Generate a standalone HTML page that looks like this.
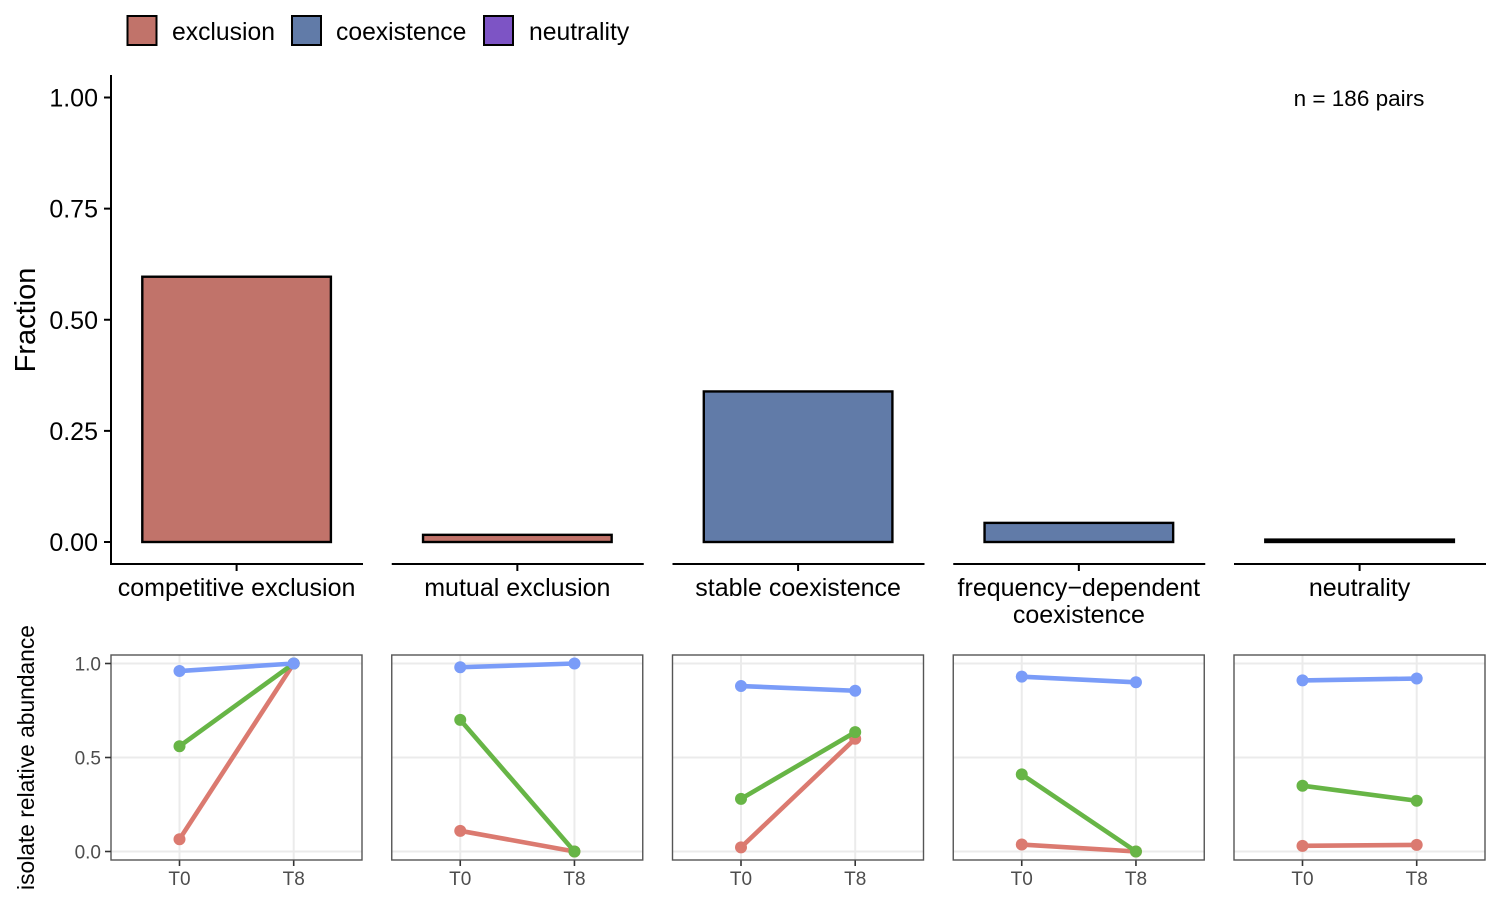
<!DOCTYPE html>
<html>
<head>
<meta charset="utf-8">
<style>
html,body{margin:0;padding:0;background:#fff;width:1500px;height:900px;overflow:hidden}
svg{display:block}
text{font-family:"Liberation Sans",sans-serif}
</style>
</head>
<body>
<svg id="fig" xmlns="http://www.w3.org/2000/svg" width="1500" height="900" viewBox="0 0 1500 900">
  <rect width="1500" height="900" fill="#fff"/>
  <g>
    <g>
      <rect x="127.5" y="16" width="29" height="29" fill="#C1736A" stroke="#000" stroke-width="2"/>
      <text x="172" y="40" font-size="24.7">exclusion</text>
    </g>
    <g>
      <rect x="292" y="16" width="29" height="29" fill="#617BA8" stroke="#000" stroke-width="2"/>
      <text x="336" y="40" font-size="24.7">coexistence</text>
    </g>
    <g>
      <rect x="484" y="16" width="29" height="29" fill="#7D54C5" stroke="#000" stroke-width="2"/>
      <text x="529" y="40" font-size="24.7">neutrality</text>
    </g>
  </g>
  <text transform="translate(35 320) rotate(-90)" text-anchor="middle" font-size="29">Fraction</text>
  <text transform="translate(34 757.5) rotate(-90)" text-anchor="middle" font-size="22.8">isolate relative abundance</text>
  <text x="1359" y="106" text-anchor="middle" font-size="22.5">n = 186 pairs</text>
  <line x1="111" y1="75" x2="111" y2="565" stroke="#000" stroke-width="2"/>
  <g id="top"></g>
  <g id="bottom"></g>
</svg>
<script>
const categories = ["competitive exclusion", "mutual exclusion", "stable coexistence", "frequency\u2212dependent|coexistence", "neutrality"];
const outcomeGroups = ["exclusion", "exclusion", "coexistence", "coexistence", "neutrality"];
const fractions = [0.5968, 0.0161, 0.3387, 0.043, 0.0054];
const fractionTicks = [0, 0.25, 0.5, 0.75, 1];
const fractionTickLabels = ["0.00", "0.25", "0.50", "0.75", "1.00"];
const abundanceTicks = [0, 0.5, 1];
const abundanceTickLabels = ["0.0", "0.5", "1.0"];
const timepoints = ["T0", "T8"];
const redSeries = [[0.065, 1], [0.11, 0], [0.022, 0.60], [0.037, 0], [0.03, 0.035]];
const greenSeries = [[0.56, 1], [0.70, 0], [0.28, 0.635], [0.41, 0], [0.35, 0.27]];
const blueSeries = [[0.96, 1], [0.98, 1], [0.88, 0.855], [0.93, 0.90], [0.91, 0.92]];

const NS = "http://www.w3.org/2000/svg";
const topG = document.getElementById("top");
const bottomG = document.getElementById("bottom");
const groupFill = { exclusion: "#C1736A", coexistence: "#617BA8", neutrality: "#7D54C5" };
const panelLeft = i => 111 + i * 280.75;
const panelW = 251;
const yTop = v => 542 - v * 444.5;
const yBot = v => 851.5 - v * 188;
const xBot = (i, t) => panelLeft(i) + 68.5 + t * 114.2;
const slug = s => s.replace(/[^a-zA-Z0-9]+/g, "-").toLowerCase();

function make(tag, attrs, parent, txt) {
  const el = document.createElementNS(NS, tag);
  for (const k in attrs) el.setAttribute(k, attrs[k]);
  if (txt !== undefined) el.textContent = txt;
  parent.appendChild(el);
  return el;
}

fractionTicks.forEach((v, i) => {
  const tick = make("line", { x1: 104, x2: 111, y1: yTop(v), y2: yTop(v), stroke: "#000", "stroke-width": 2 }, topG);
  
  
  const label = make("text", { x: 98, y: yTop(v) + 9, "text-anchor": "end", "font-size": 25, fill: "#000" }, topG, fractionTickLabels[i]);
  
  
});

categories.forEach((cat, i) => {
  const left = panelLeft(i);
  const cx = left + 125.6;
  const axis = make("line", { x1: left - (i ? 0 : 1), x2: left + 252, y1: 564, y2: 564, stroke: "#000", "stroke-width": 2 }, topG);
  
  
  const tick = make("line", { x1: cx, x2: cx, y1: 564, y2: 571, stroke: "#000", "stroke-width": 2 }, topG);
  
  
  const bar = make("rect", { x: cx - 94.3, y: yTop(fractions[i]), width: 188.6, height: yTop(0) - yTop(fractions[i]), fill: groupFill[outcomeGroups[i]], stroke: "#000", "stroke-width": 2.4 }, topG);
  
  
  cat.split("|").forEach((line, j) => {
    const label = make("text", { x: cx, y: 596 + j * 27, "text-anchor": "middle", "font-size": 25, fill: "#000" }, topG, line);
    
    
  });

  const panel = make("g", {}, bottomG);
  
  
  abundanceTicks.forEach(v => {
    const grid = make("line", { x1: left, x2: left + panelW, y1: yBot(v), y2: yBot(v), stroke: "#EBEBEB", "stroke-width": 2 }, panel);
    
    
  });
  timepoints.forEach((tp, t) => {
    const x = xBot(i, t);
    const grid = make("line", { x1: x, x2: x, y1: 655, y2: 860, stroke: "#EBEBEB", "stroke-width": 2 }, panel);
    
    
    const tk = make("line", { x1: x, x2: x, y1: 860, y2: 866, stroke: "#333", "stroke-width": 1.6 }, panel);
    
    
    const lab = make("text", { x: x, y: 885, "text-anchor": "middle", "font-size": 19, fill: "#4D4D4D" }, panel, tp);
    
    
  });
  const seriesSet = [["red", redSeries, "#DB7A70"], ["green", greenSeries, "#67B546"], ["blue", blueSeries, "#7A9CF8"]];
  seriesSet.forEach(s => {
    const vals = s[1][i];
    const ln = make("line", { x1: xBot(i, 0), y1: yBot(vals[0]), x2: xBot(i, 1), y2: yBot(vals[1]), stroke: s[2], "stroke-width": 4.6 }, panel);
    
    
    vals.forEach((v, t) => {
      const pt = make("circle", { cx: xBot(i, t), cy: yBot(v), r: 6, fill: s[2] }, panel);
      
      
    });
  });
  const frame = make("rect", { x: left, y: 655, width: panelW, height: 205, fill: "none", stroke: "#555", "stroke-width": 1.4 }, panel);
  
  
});

abundanceTicks.forEach((v, i) => {
  const tick = make("line", { x1: 105, x2: 111, y1: yBot(v), y2: yBot(v), stroke: "#333", "stroke-width": 1.6 }, bottomG);
  
  
  const label = make("text", { x: 101, y: yBot(v) + 7, "text-anchor": "end", "font-size": 19, fill: "#4D4D4D" }, bottomG, abundanceTickLabels[i]);
  
  
});
</script>
</body>
</html>
